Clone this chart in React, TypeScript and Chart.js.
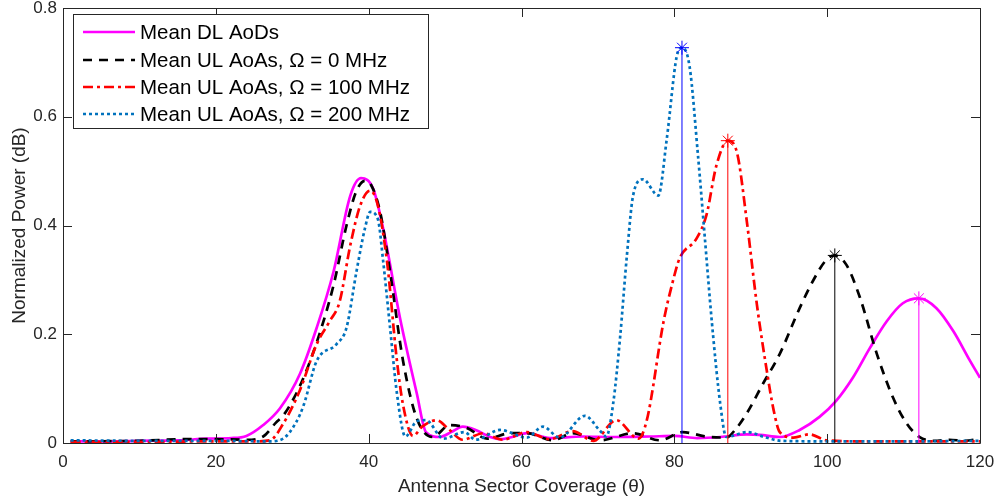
import React, { useEffect, useRef } from "react";
import { Chart, registerables } from "chart.js";

Chart.register(...registerables);

const FONT = '"Liberation Sans", Arial, Helvetica, sans-serif';

const xTickValues = [0, 20, 40, 60, 80, 100, 120];
const yTickValues = [0, 0.2, 0.4, 0.6, 0.8];

const seriesLabels = [
  "Mean DL AoDs",
  "Mean UL AoAs, Ω = 0 MHz",
  "Mean UL AoAs, Ω = 100 MHz",
  "Mean UL AoAs, Ω = 200 MHz",
];

const thetaDL = [1, 5, 10, 15, 19, 22, 24, 26.2, 28.4, 31, 33.2, 35.4, 37.6, 39, 40.6, 41.9, 44.1, 46.3, 47.5, 49.3, 50.8, 52.3, 54, 55.9, 57.3, 59, 60.7, 63.7, 68, 72, 76.8, 80, 83, 86, 89.5, 91.2, 93.8, 96.4, 99, 101.2, 103.4, 105.6, 107.8, 109.9, 112, 114.3, 116.5, 118.7, 120];
const powerDL = [0.003, 0.003, 0.004, 0.005, 0.008, 0.009, 0.013, 0.033, 0.064, 0.127, 0.212, 0.315, 0.455, 0.487, 0.467, 0.394, 0.23, 0.091, 0.02, 0.011, 0.02, 0.03, 0.024, 0.011, 0.007, 0.012, 0.018, 0.009, 0.012, 0.011, 0.012, 0.013, 0.009, 0.011, 0.016, 0.015, 0.011, 0.024, 0.048, 0.078, 0.121, 0.175, 0.224, 0.257, 0.266, 0.248, 0.206, 0.151, 0.12];

const thetaUL0 = [1, 10, 16, 20, 24, 26.2, 27.9, 28.8, 31, 33.2, 35.4, 37.1, 38.3, 39.5, 40.3, 41.5, 42.8, 44.5, 46.3, 48.4, 50.6, 52.8, 55.5, 58.5, 60.7, 64.1, 66.7, 70.3, 74.6, 78.1, 81.1, 84.1, 86.8, 88, 89.5, 91.6, 93.8, 96.4, 98.1, 99.9, 101, 102.5, 104.3, 106.5, 108.6, 110.4, 112.1, 114, 116, 118, 120];
const powerUL0 = [0.003, 0.004, 0.007, 0.007, 0.006, 0.012, 0.038, 0.05, 0.105, 0.185, 0.29, 0.4, 0.46, 0.482, 0.475, 0.425, 0.315, 0.151, 0.045, 0.011, 0.033, 0.028, 0.008, 0.018, 0.018, 0.005, 0.018, 0.005, 0.018, 0.005, 0.02, 0.012, 0.01, 0.025, 0.055, 0.109, 0.164, 0.248, 0.297, 0.337, 0.345, 0.328, 0.267, 0.164, 0.084, 0.036, 0.011, 0.004, 0.006, 0.004, 0.008];

const thetaUL100 = [1, 10, 20, 25, 27.1, 28.8, 31, 33.2, 34.9, 36.2, 37.6, 38.9, 40.2, 41.2, 42.4, 43.7, 44.5, 45.8, 47, 48.9, 50.5, 52.3, 55, 57.5, 60.7, 63.7, 66.7, 69.4, 72.4, 75.3, 76.4, 78.6, 79.8, 80.7, 82.9, 84.2, 85.5, 87, 88.2, 89.5, 90.8, 92.1, 93, 93.8, 95.6, 97.7, 99.9, 105, 120];
const powerUL100 = [0.002, 0.002, 0.003, 0.003, 0.005, 0.035, 0.097, 0.182, 0.224, 0.26, 0.364, 0.437, 0.464, 0.437, 0.334, 0.151, 0.07, 0.013, 0.03, 0.042, 0.025, 0.006, 0.018, 0.006, 0.02, 0.007, 0.022, 0.004, 0.042, 0.008, 0.042, 0.224, 0.297, 0.34, 0.376, 0.419, 0.51, 0.556, 0.534, 0.406, 0.255, 0.133, 0.06, 0.02, 0.01, 0.016, 0.005, 0.003, 0.003];

const thetaUL200 = [1, 10, 20, 27, 28.8, 30.5, 31.5, 33.2, 35.8, 37.1, 38.4, 39.5, 40.2, 41.2, 41.9, 42.8, 43.7, 44.8, 46.3, 47.5, 49.8, 52.5, 54, 57.2, 60.7, 62.8, 65, 68.3, 70.3, 71.1, 72, 72.9, 73.8, 74.6, 75.9, 77.9, 79, 80.3, 81, 82, 83.1, 84, 84.9, 86, 86.8, 89.5, 92, 94, 100, 110, 120];
const powerUL200 = [0.005, 0.004, 0.004, 0.003, 0.008, 0.038, 0.07, 0.151, 0.182, 0.212, 0.315, 0.394, 0.425, 0.412, 0.334, 0.212, 0.091, 0.012, 0.04, 0.042, 0.008, 0.02, 0.006, 0.024, 0.01, 0.03, 0.01, 0.05, 0.022, 0.012, 0.073, 0.194, 0.346, 0.455, 0.485, 0.455, 0.558, 0.71, 0.727, 0.692, 0.528, 0.376, 0.224, 0.073, 0.011, 0.02, 0.01, 0.004, 0.003, 0.003, 0.004];

const peakTheta = [112, 101, 87, 81];
const peakPower = [0.266, 0.345, 0.556, 0.727];

const curveColors = ["#FF00FF", "#000000", "#FF0000", "#0072BD"];
const stemColors = ["#FF00FF", "#000000", "#FF0000", "#0000FF"];
const curveDashes: number[][] = [[], [9, 7], [10, 4, 3, 4], [3, 3]];

const thetas = [thetaDL, thetaUL0, thetaUL100, thetaUL200];
const powers = [powerDL, powerUL0, powerUL100, powerUL200];

const AXIS_COLOR = "#262626";
const TICK_LEN = 9;

const framePlugin = {
  id: "matlabFrame",
  afterDatasetsDraw(chart: any) {
    const { ctx, chartArea } = chart;
    const { left, right, top, bottom } = chartArea;
    const xs = chart.scales.x;
    const ys = chart.scales.y;
    ctx.save();
    ctx.strokeStyle = AXIS_COLOR;
    ctx.lineWidth = 1;
    ctx.setLineDash([]);
    ctx.beginPath();
    ctx.rect(Math.round(left) + 0.5, Math.round(top) + 0.5, Math.round(right - left), Math.round(bottom - top));
    ctx.stroke();
    ctx.beginPath();
    xs.ticks.forEach((t: any) => {
      const px = Math.round(xs.getPixelForValue(t.value)) + 0.5;
      ctx.moveTo(px, bottom);
      ctx.lineTo(px, bottom - TICK_LEN);
      ctx.moveTo(px, top);
      ctx.lineTo(px, top + TICK_LEN);
    });
    ys.ticks.forEach((t: any) => {
      const py = Math.round(ys.getPixelForValue(t.value)) + 0.5;
      ctx.moveTo(left, py);
      ctx.lineTo(left + TICK_LEN, py);
      ctx.moveTo(right, py);
      ctx.lineTo(right - TICK_LEN, py);
    });
    ctx.stroke();
    ctx.restore();
  },
};

const legendPlugin = {
  id: "matlabLegend",
  afterDraw(chart: any) {
    const { ctx } = chart;
    const bx = 73, by = 14, bw = 355, bh = 114;
    ctx.save();
    ctx.fillStyle = "#FFFFFF";
    ctx.fillRect(bx, by, bw, bh);
    ctx.strokeStyle = AXIS_COLOR;
    ctx.lineWidth = 1;
    ctx.setLineDash([]);
    ctx.strokeRect(bx + 0.5, by + 0.5, bw, bh);
    const rowY = [32, 60, 87, 114];
    ctx.font = `20.5px ${FONT}`;
    ctx.textBaseline = "middle";
    ctx.textAlign = "left";
    for (let i = 0; i < 4; i++) {
      const ds = chart.data.datasets[i];
      ctx.strokeStyle = ds.borderColor;
      ctx.lineWidth = ds.borderWidth;
      ctx.setLineDash(ds.borderDash || []);
      ctx.beginPath();
      ctx.moveTo(83, rowY[i]);
      ctx.lineTo(135, rowY[i]);
      ctx.stroke();
      ctx.fillStyle = "#000000";
      ctx.fillText(ds.label, 140, rowY[i] + 1);
    }
    ctx.restore();
  },
};

export default function App() {
  const ref = useRef<HTMLCanvasElement>(null);
  useEffect(() => {
    document.body.style.margin = "0";
    const curveSets = thetas.map((th, i) => ({
      label: seriesLabels[i],
      data: th.map((x, j) => ({ x, y: powers[i][j] })),
      borderColor: curveColors[i],
      backgroundColor: curveColors[i],
      borderWidth: 2.7,
      borderDash: curveDashes[i],
      borderCapStyle: "butt",
      pointRadius: 0,
      showLine: true,
      fill: false,
      cubicInterpolationMode: "monotone",
      order: 10 - i,
    }));
    const stemSets = peakTheta.map((x, i) => ({
      label: "peak " + i,
      data: [
        { x, y: 0 },
        { x, y: peakPower[i] },
      ],
      borderColor: stemColors[i],
      backgroundColor: stemColors[i],
      borderWidth: 1,
      pointRadius: [0, 7],
      pointStyle: "star",
      pointBorderWidth: 1,
      pointBorderColor: stemColors[i],
      showLine: true,
      fill: false,
      order: 1,
    }));
    const chart = new Chart(ref.current as HTMLCanvasElement, {
      type: "scatter",
      data: { datasets: [...curveSets, ...stemSets] as any },
      plugins: [framePlugin, legendPlugin],
      options: {
        animation: false,
        responsive: false,
        devicePixelRatio: 1,
        layout: { padding: { left: 0, right: 20, top: 4, bottom: 0 } },
        plugins: { legend: { display: false }, tooltip: { enabled: false } },
        scales: {
          x: {
            type: "linear",
            min: 0,
            max: 120,
            grid: { display: false, drawTicks: false },
            border: { display: false },
            afterBuildTicks: (s: any) => {
              s.ticks = xTickValues.map((v) => ({ value: v }));
            },
            afterFit: (s: any) => {
              s.height = 60;
              s.paddingLeft = 0;
              s.paddingRight = 0;
            },
            ticks: {
              padding: 9,
              color: AXIS_COLOR,
              font: { family: FONT, size: 17 },
              maxRotation: 0,
              callback: (v: any) => String(v),
            },
            title: {
              display: true,
              text: "Antenna Sector Coverage (θ)",
              color: AXIS_COLOR,
              font: { family: FONT, size: 19 },
              padding: { top: 0, bottom: 5 },
            },
          },
          y: {
            type: "linear",
            min: 0,
            max: 0.8,
            grid: { display: false, drawTicks: false },
            border: { display: false },
            afterBuildTicks: (s: any) => {
              s.ticks = yTickValues.map((v) => ({ value: v }));
            },
            afterFit: (s: any) => {
              s.width = 63;
              s.paddingTop = 0;
              s.paddingBottom = 0;
            },
            ticks: {
              padding: 6,
              color: AXIS_COLOR,
              font: { family: FONT, size: 17 },
              callback: (v: any) => Number(v).toFixed(1).replace(/\.0$/, ""),
            },
            title: {
              display: true,
              text: "Normalized Power (dB)",
              color: AXIS_COLOR,
              font: { family: FONT, size: 19 },
              padding: { top: 8, bottom: 0 },
            },
          },
        },
      } as any,
    });
    return () => chart.destroy();
  }, []);
  return (
    <div style={{ position: "absolute", left: 0, top: 0, width: 1000, height: 503, background: "#FFFFFF" }}>
      <canvas ref={ref} width={1000} height={503} style={{ display: "block", width: 1000, height: 503 }} />
    </div>
  );
}
